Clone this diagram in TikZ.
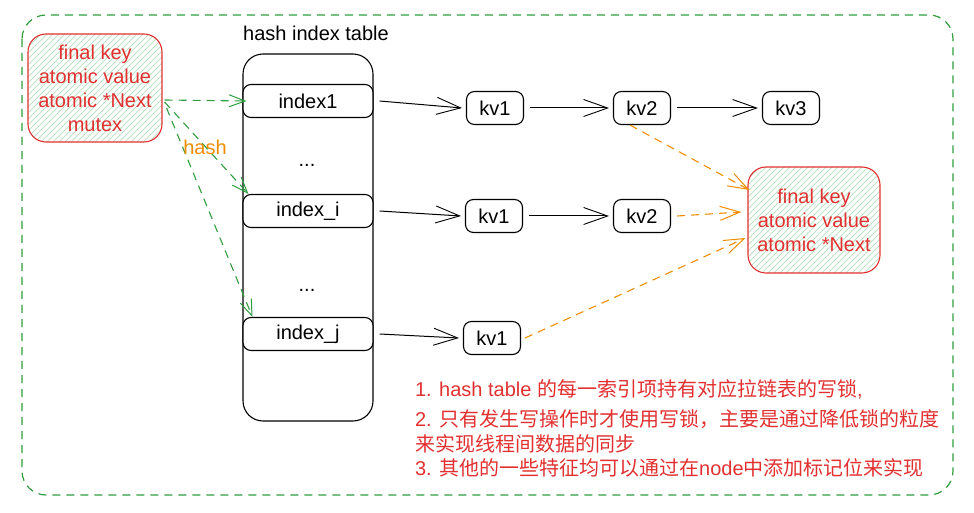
\documentclass[tikz,border=0pt]{standalone}
\usepackage{fontspec}
\setmainfont{Liberation Sans}
\newfontfamily\cjk{Noto Sans CJK SC}
\usetikzlibrary{arrows.meta,patterns}

\definecolor{myred}{RGB}{226,48,48}
\definecolor{mygreen}{RGB}{46,158,62}
\definecolor{myorange}{RGB}{240,140,0}

\tikzset{
  box/.style={draw,rounded corners=4pt,fill=white,line width=0.55pt,minimum height=16.5pt,inner sep=0pt},
  rec/.style={draw=myred,rounded corners=9pt,line width=0.55pt,pattern=north east lines,pattern color=mygreen!30,text=myred,align=center,inner sep=0pt},
  blk/.style={line width=0.5pt,-{Straight Barb[length=12pt,width=8.5pt,line width=0.45pt]}},
  grn/.style={draw=mygreen,dashed,dash pattern=on 4pt off 3pt,line width=0.55pt,-{Straight Barb[length=8pt,width=6pt,line width=0.5pt]}},
  org/.style={draw=myorange,dashed,dash pattern=on 4pt off 3pt,line width=0.55pt,-{Straight Barb[length=10pt,width=7pt,line width=0.5pt]}}
}

\begin{document}
\begin{tikzpicture}[x=0.5pt,y=-0.5pt,font=\fontsize{10}{12}\selectfont]
\useasboundingbox (0,0) rectangle (974,513);
% outer frame
\draw[mygreen,dashed,dash pattern=on 4pt off 3pt,line width=0.6pt,rounded corners=12pt] (22,15) rectangle (953,495);

\node[rec,minimum width=67pt,minimum height=54pt] (src) at (95,88) {final key\\atomic value\\atomic *Next\\mutex};

\node (title) at (316,33) {hash index table};
\draw[line width=0.55pt,rounded corners=10pt] (243,54) rectangle (373,421);
\node[box,minimum width=65pt] (idx1) at (308,101) {index1};
\node (dots1) at (307,165) {...};
\node[box,minimum width=65pt] (idxi) at (308,211) {index\_i};
\node (dots2) at (307,290) {...};
\node[box,minimum width=65pt] (idxj) at (308,334) {index\_j};

\node[box,minimum width=28.5pt] (a1) at (495,108) {kv1};
\node[box,minimum width=28.5pt] (a2) at (642,108) {kv2};
\node[box,minimum width=28.5pt] (a3) at (791,108) {kv3};
\node[box,minimum width=28.5pt] (b1) at (494,216) {kv1};
\node[box,minimum width=28.5pt] (b2) at (642,216) {kv2};
\node[box,minimum width=28.5pt] (c1) at (492,338) {kv1};

\node[rec,minimum width=66pt,minimum height=53pt] (dst) at (814,220) {final key\\atomic value\\atomic *Next};

\draw[blk] ([xshift=3pt]idx1.east) -- ([xshift=-2pt]a1.west);
\draw[blk] ([xshift=3pt]a1.east) -- ([xshift=-2pt]a2.west);
\draw[blk] ([xshift=3pt]a2.east) -- ([xshift=-2pt]a3.west);
\draw[blk] ([xshift=3pt]idxi.east) -- ([xshift=-2pt]b1.west);
\draw[blk] ([xshift=3pt]b1.east) -- ([xshift=-2pt]b2.west);
\draw[blk] ([xshift=3pt]idxj.east) -- ([xshift=-2pt]c1.west);

% hash
\draw[grn] ([xshift=1pt,yshift=-6pt]src.east) -- ([xshift=2pt]idx1.west);
\draw[grn] ([xshift=1pt,yshift=-7pt]src.east) -- ([xshift=3pt]idxi.north west);
\draw[grn] ([xshift=2pt,yshift=-10pt]src.east) -- ([xshift=5pt]idxj.north west);
\node[text=myorange] (hash) at (205,147) {hash};

\draw[org] ([xshift=-6pt]a2.south) -- ([xshift=1pt,yshift=15pt]dst.west);
\draw[org] ([xshift=3pt]b2.east) -- ([xshift=-3pt,yshift=4pt]dst.west);
\draw[org] ([xshift=2pt]c1.east) -- ([xshift=-1pt,yshift=-9pt]dst.west);

\node[anchor=north west,align=left,text=myred,font=\fontsize{10}{12.3}\selectfont] (note) at (408,372)
  {1. hash table {\cjk 的每一索引项持有对应拉链表的写锁},\\[3pt]
   2. {\cjk 只有发生写操作时才使用写锁，主要是通过降低锁的粒度}\\
   {\cjk 来实现线程间数据的同步}\\
   3. {\cjk 其他的一些特征均可以通过在}node{\cjk 中添加标记位来实现}};
\end{tikzpicture}
\end{document}
